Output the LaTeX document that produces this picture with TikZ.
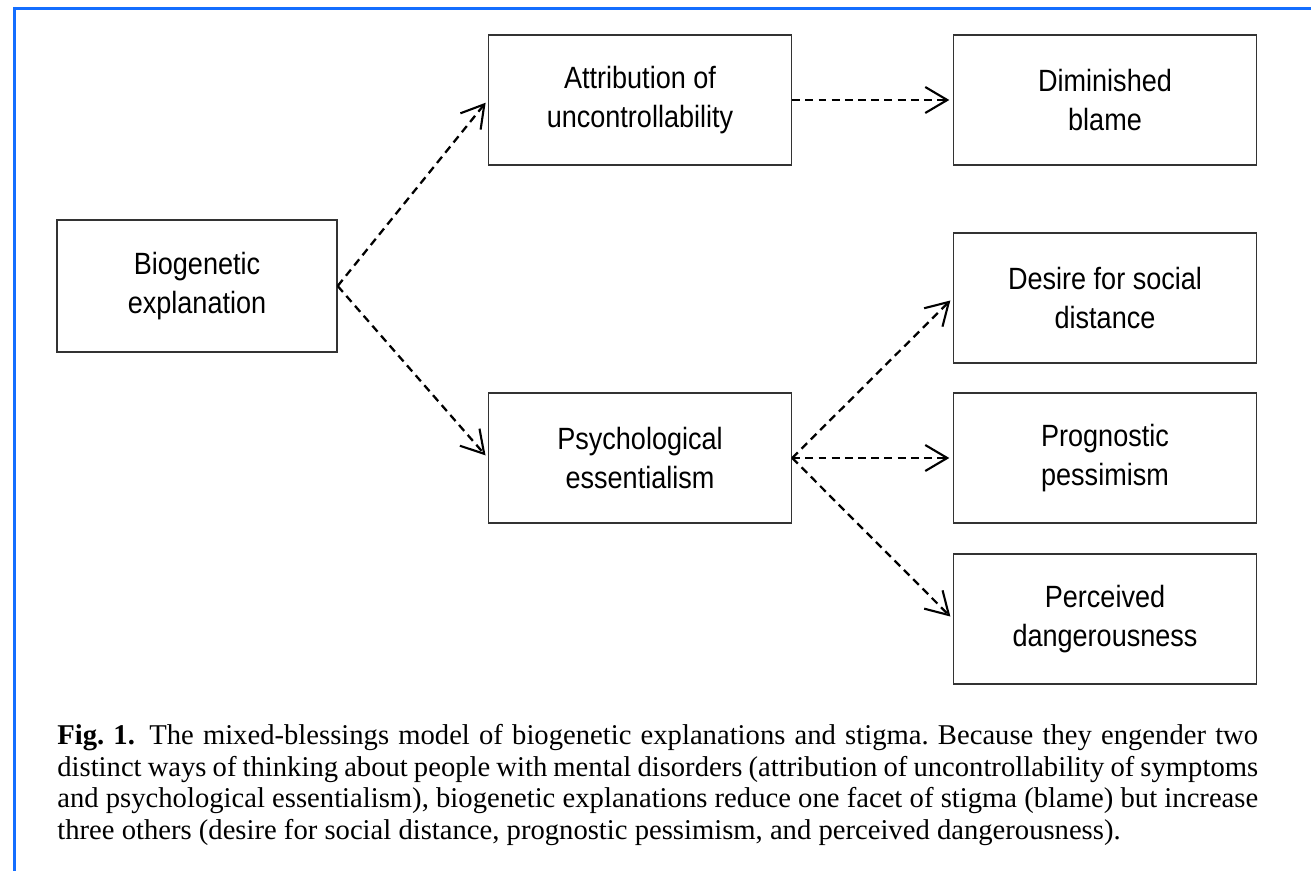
\documentclass[tikz,border=0pt]{standalone}
\usepackage{fontspec}
\setmainfont{Liberation Serif}
\newfontfamily\boxfont[FakeStretch=0.88]{Liberation Sans}
\usetikzlibrary{arrows.meta}

\definecolor{frameblue}{RGB}{20,110,255}

\begin{document}
\frenchspacing
\begin{tikzpicture}[
    x=0.02cm, y=-0.02cm,
    every node/.style={text=black},
    box/.style={draw=black!80, line width=0.8pt, minimum width=6.06cm,
        minimum height=2.6cm, align=center, inner sep=0pt,
        font=\boxfont\fontsize{17.5}{22.5}\selectfont},
    link/.style={draw=black, line width=1.3pt, dash pattern=on 4.5pt off 3pt,
        -{Straight Barb[length=4.4mm, width=5.2mm, line width=1.2pt]},
        shorten >=2pt}
]
    \useasboundingbox (0,0) rectangle (1311,871);

    % ==========================
    % PAGE FRAME (blue rule)
    % ==========================
    \draw[frameblue, line width=1.8pt] (13,8.5) -- (1311,8.5);
    \draw[frameblue, line width=1.8pt] (14.5,7) -- (14.5,871);

    % ==========================
    % LEFT: cause
    % ==========================
    \node[box, minimum width=5.6cm, minimum height=2.64cm] (bio) at (197,286)
        {Biogenetic\\explanation};

    % ==========================
    % MIDDLE: ways of thinking
    % ==========================
    \node[box] (attr) at (640,100) {Attribution of\\uncontrollability};
    \node[box] (psych) at (640,458) {Psychological\\essentialism};

    % ==========================
    % RIGHT: facets of stigma
    % ==========================
    \node[box] (blame) at (1105,100) {Diminished\\blame};
    \foreach \name/\y/\txt in {
        dist/298/{Desire for social\\distance},
        prog/458/{Prognostic\\pessimism},
        danger/619/{Perceived\\dangerousness}}
    {
        \node[box] (\name) at (1105,\y) {\txt};
    }

    % Connectors
    \draw[link] (bio.east) -- (attr.west);
    \draw[link] (bio.east) -- (psych.west);
    \draw[link] (attr.east) -- (blame.west);
    \foreach \target in {dist, prog, danger}
        \draw[link] (psych.east) -- (\target.west);

    % Caption
    \node[anchor=north west, inner sep=0pt, text width=24.02cm, align=justify,
        font=\fontsize{16.3}{18}\selectfont] (caption) at (57,724)
        {\textbf{Fig.~1.}\enspace The mixed-blessings model of biogenetic explanations and stigma. Because they engender two\linebreak
        distinct ways of thinking about people with mental disorders (attribution of uncontrollability of symptoms\linebreak
        and psychological essentialism), biogenetic explanations reduce one facet of stigma (blame) but increase\linebreak
        three others (desire for social distance, prognostic pessimism, and perceived dangerousness).};
\end{tikzpicture}
\end{document}
